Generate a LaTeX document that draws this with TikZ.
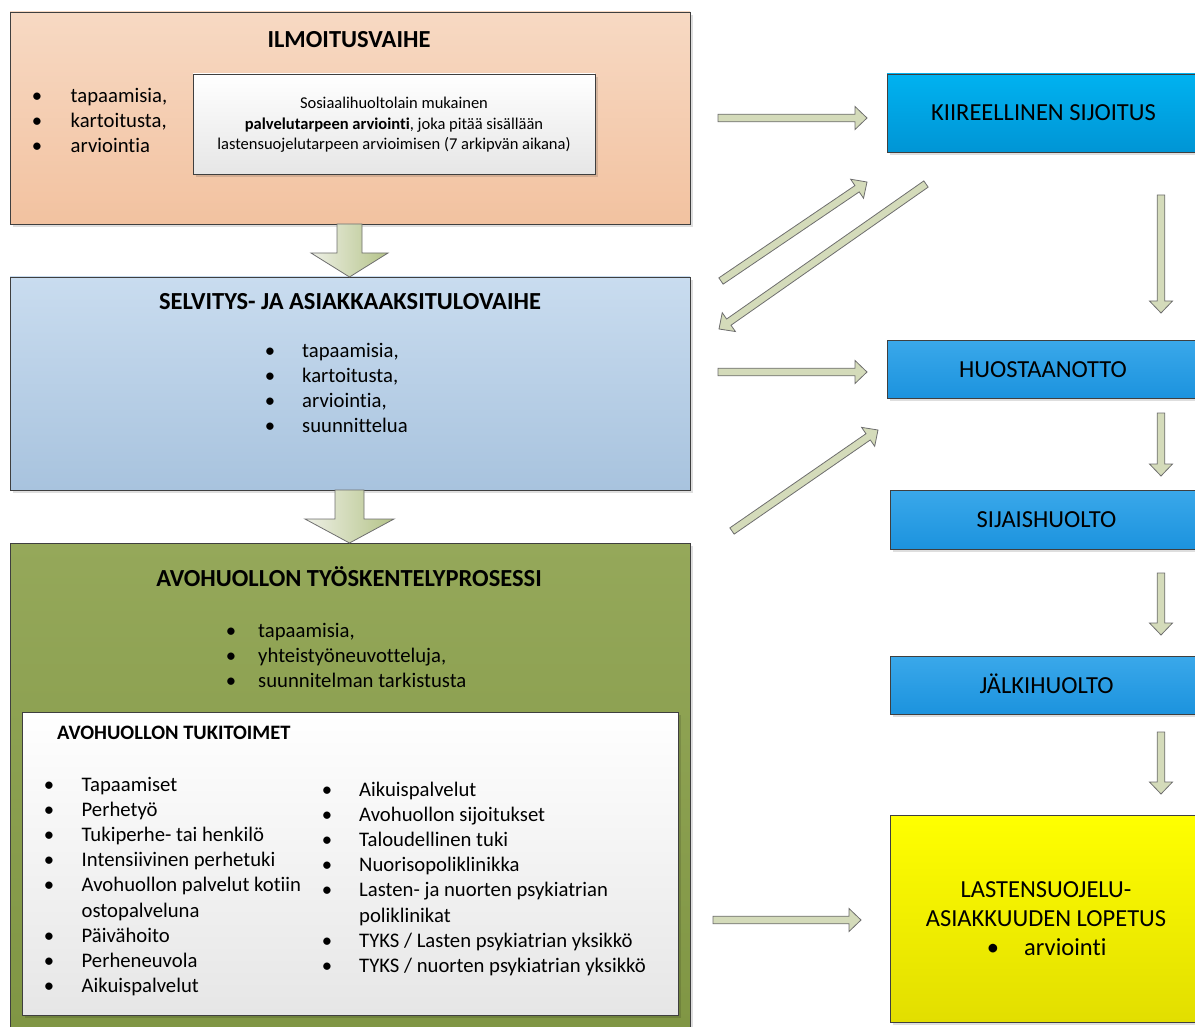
\documentclass[tikz,border=0pt]{standalone}
\usepackage{fontspec}
\setmainfont{Carlito}[Ligatures=NoCommon]
\usetikzlibrary{calc,shadows}

\definecolor{orangeT}{HTML}{F7D9C3}
\definecolor{orangeB}{HTML}{F2C2A0}
\definecolor{blueT}{HTML}{C9DCEF}
\definecolor{blueB}{HTML}{A8C3DE}
\definecolor{greenT}{HTML}{95A85A}
\definecolor{greenB}{HTML}{809644}
\definecolor{paperB}{HTML}{E6E6E6}
\definecolor{kiirT}{HTML}{00B2F0}
\definecolor{kiirB}{HTML}{0095D5}
\definecolor{stepT}{HTML}{3AA8EA}
\definecolor{stepB}{HTML}{1C93DE}
\definecolor{yelT}{HTML}{FFFF00}
\definecolor{yelB}{HTML}{E2DE00}
\definecolor{boxline}{HTML}{3F3F3F}
\definecolor{arrowfill}{HTML}{D4DBBA}
\definecolor{arrowline}{HTML}{6E6E6E}
\definecolor{fatL}{HTML}{EEF0E6}
\definecolor{fatR}{HTML}{B4C388}

\tikzset{
  box/.style={draw=boxline, line width=0.9pt, inner sep=0pt, outer sep=0pt,
    anchor=north west,
    drop shadow={shadow xshift=3pt, shadow yshift=-3pt, fill=black, opacity=0.13}},
  ttl/.style={font=\fontsize{24.5}{29}\selectfont\bfseries, anchor=base, inner sep=0pt},
  bodytxt/.style={font=\fontsize{20.7}{25}\selectfont, anchor=base west, inner sep=0pt},
  bul/.style={font=\fontsize{20.7}{25}\selectfont, anchor=base, inner sep=0pt},
  innertxt/.style={font=\fontsize{16.5}{20.5}\selectfont, anchor=base, inner sep=0pt},
  rtxt/.style={font=\fontsize{24.5}{28}\selectfont, anchor=base, inner sep=0pt},
  thinarrow/.style={draw=arrowline, line width=0.8pt, fill=arrowfill, line join=miter},
  fatarrow/.style={draw=arrowline, line width=0.8pt, left color=fatL, right color=fatR, line join=miter},
}

% block arrow: [style]{from}{to}{shaft half width}{head half width}{head length}
\newcommand\blockarrow[6][thinarrow]{%
  \path ($(#3)!#6!(#2)$) coordinate (bh);
  \draw[#1] ($(#2)!#4!90:(#3)$) -- ($(bh)!#4!-90:(#2)$) -- ($(bh)!#5!-90:(#2)$)
    -- (#3) -- ($(bh)!#5!90:(#2)$) -- ($(bh)!#4!90:(#2)$) -- ($(#2)!#4!-90:(#3)$) -- cycle;}

\begin{document}
\begin{tikzpicture}[x=1pt, y=-1pt]
\useasboundingbox (0,0) rectangle (1195,1027);

% ---------- left column: phases ----------
\node[box, top color=orangeT, bottom color=orangeB,
      minimum width=680pt, minimum height=212pt] (ilm) at (10,12) {};
\node[ttl] (ilmT) at (349,48) {ILMOITUSVAIHE};
\foreach \t [count=\i] in {{tapaamisia,},{kartoitusta,},{arviointia}} {
  \node[bul] (ilmB\i) at (37,{103+25*(\i-1)}) {\textbullet};
  \node[bodytxt] (ilmL\i) at (70.5,{103+25*(\i-1)}) {\t};
}
\node[box, top color=white, bottom color=paperB,
      minimum width=402pt, minimum height=100pt] (psa) at (193,74) {};
\node[innertxt] (psa1) at (394,109) {Sosiaalihuoltolain mukainen};
\node[innertxt] (psa2) at (394,130) {\textbf{palvelutarpeen arviointi}, joka pitää sisällään};
\node[innertxt] (psa3) at (394,150) {lastensuojelutarpeen arvioimisen (7 arkipvän aikana)};

\node[box, top color=blueT, bottom color=blueB,
      minimum width=680pt, minimum height=213pt] (sel) at (10,277) {};
\node[ttl] (selT) at (350,310) {SELVITYS- JA ASIAKKAAKSITULOVAIHE};
\foreach \t [count=\i] in {{tapaamisia,},{kartoitusta,},{arviointia,},{suunnittelua}} {
  \node[bul] (selB\i) at (270,{357+25*(\i-1)}) {\textbullet};
  \node[bodytxt] (selL\i) at (302,{357+25*(\i-1)}) {\t};
}

\node[box, top color=greenT, bottom color=greenB,
      minimum width=680pt, minimum height=484pt] (avo) at (10,543) {};
\node[ttl] (avoT) at (349,586) {AVOHUOLLON TYÖSKENTELYPROSESSI};
\foreach \t [count=\i] in {{tapaamisia,},{yhteistyöneuvotteluja,},{suunnitelman tarkistusta}} {
  \node[bul] (avoB\i) at (231,{637+25*(\i-1)}) {\textbullet};
  \node[bodytxt] (avoL\i) at (258,{637+25*(\i-1)}) {\t};
}

\node[box, top color=white, bottom color=paperB,
      minimum width=656pt, minimum height=303pt] (tuki) at (22,712) {};
\node[font=\fontsize{20.5}{25}\selectfont\bfseries, anchor=base west, inner sep=0pt]
  (tukiT) at (57,739) {AVOHUOLLON TUKITOIMET};
% first column of support measures
\foreach \t/\b [count=\i] in {{Tapaamiset}/1, {Perhetyö}/1, {Tukiperhe- tai henkilö}/1,
    {Intensiivinen perhetuki}/1, {Avohuollon palvelut kotiin}/1, {ostopalveluna}/0,
    {Päivähoito}/1, {Perheneuvola}/1, {Aikuispalvelut}/1} {
  \ifnum\b=1 \node[bul] (tkB\i) at (49,{791.5+25.1*(\i-1)}) {\textbullet}; \fi
  \node[bodytxt] (tkL\i) at (81.5,{791.5+25.1*(\i-1)}) {\t};
}
% second column of support measures
\foreach \t/\b [count=\i] in {{Aikuispalvelut}/1, {Avohuollon sijoitukset}/1,
    {Taloudellinen tuki}/1, {Nuorisopoliklinikka}/1, {Lasten- ja nuorten psykiatrian}/1,
    {poliklinikat}/0, {TYKS / Lasten psykiatrian yksikkö}/1, {TYKS / nuorten psykiatrian yksikkö}/1} {
  \ifnum\b=1 \node[bul] (trB\i) at (327,{796.5+25.1*(\i-1)}) {\textbullet}; \fi
  \node[bodytxt] (trL\i) at (359,{796.5+25.1*(\i-1)}) {\t};
}

% ---------- right column: measures ----------
\node[box, top color=kiirT, bottom color=kiirB,
      minimum width=315pt, minimum height=78pt] (kii) at (887,74) {};
\node[rtxt] (kiiT) at (1043.5,121) {KIIREELLINEN SIJOITUS};

\node[box, top color=stepT, bottom color=stepB,
      minimum width=315pt, minimum height=58pt] (huo) at (887,340) {};
\node[rtxt] (huoT) at (1043,377) {HUOSTAANOTTO};

\node[box, top color=stepT, bottom color=stepB,
      minimum width=315pt, minimum height=59pt] (sij) at (890,490) {};
\node[rtxt] (sijT) at (1046.5,527) {SIJAISHUOLTO};

\node[box, top color=stepT, bottom color=stepB,
      minimum width=315pt, minimum height=58pt] (jal) at (890,656) {};
\node[rtxt] (jalT) at (1046.5,693) {JÄLKIHUOLTO};

\node[box, top color=yelT, bottom color=yelB,
      minimum width=315pt, minimum height=207pt] (lop) at (890,815) {};
\node[rtxt] (lop1) at (1046,897) {LASTENSUOJELU-};
\node[rtxt] (lop2) at (1046,926) {ASIAKKUUDEN LOPETUS};
\node[rtxt] (lopB) at (993,955) {\textbullet};
\node[rtxt, anchor=base west] (lop3) at (1024,955) {arviointi};

% ---------- arrow end points ----------
\coordinate (f1s) at (349.5,224);  \coordinate (f1e) at (349.5,277);
\coordinate (f2s) at (349.5,490);  \coordinate (f2e) at (349.5,543);
\coordinate (h1s) at (718,118);    \coordinate (h1e) at (867,118);
\coordinate (h2s) at (718,372);    \coordinate (h2e) at (867,372);
\coordinate (h3s) at (713,920);    \coordinate (h3e) at (861,920);
\coordinate (d1s) at (721,281);    \coordinate (d1e) at (867,182);
\coordinate (d2s) at (926,184);    \coordinate (d2e) at (719,329);
\coordinate (d3s) at (732,531);    \coordinate (d3e) at (878,430);
\coordinate (v1s) at (1161,195);   \coordinate (v1e) at (1161,313);
\coordinate (v2s) at (1161,413);   \coordinate (v2e) at (1161,476);
\coordinate (v3s) at (1161,573);   \coordinate (v3e) at (1161,635);
\coordinate (v4s) at (1161,732);   \coordinate (v4e) at (1161,794);

% ---------- arrows ----------
\blockarrow[fatarrow]{f1s}{f1e}{12.5pt}{38.5pt}{24pt}
\blockarrow[fatarrow]{f2s}{f2e}{14.5pt}{44.5pt}{24pt}

\blockarrow{h1s}{h1e}{3.8pt}{11.5pt}{12pt}
\blockarrow{h2s}{h2e}{3.8pt}{11.5pt}{12pt}
\blockarrow{h3s}{h3e}{3.8pt}{11.5pt}{12pt}
\blockarrow{d1s}{d1e}{3.8pt}{11.5pt}{12pt}
\blockarrow{d2s}{d2e}{3.8pt}{11.5pt}{12pt}
\blockarrow{d3s}{d3e}{3.8pt}{11.5pt}{12pt}
\blockarrow{v1s}{v1e}{3.8pt}{11.5pt}{12pt}
\blockarrow{v2s}{v2e}{3.8pt}{11.5pt}{12pt}
\blockarrow{v3s}{v3e}{3.8pt}{11.5pt}{12pt}
\blockarrow{v4s}{v4e}{3.8pt}{11.5pt}{12pt}
\end{tikzpicture}
\end{document}
